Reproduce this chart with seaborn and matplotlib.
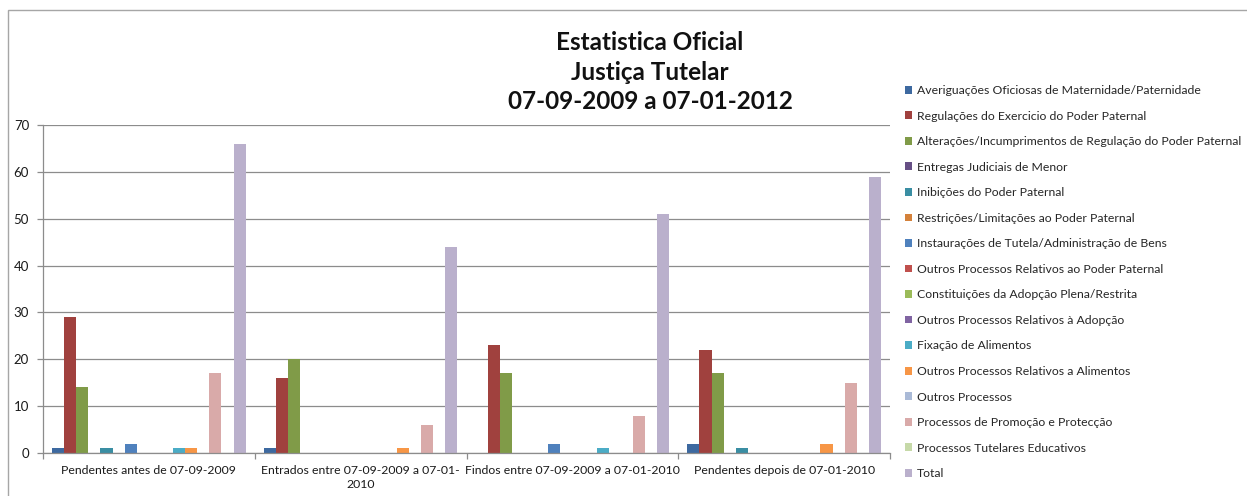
import matplotlib
matplotlib.use("Agg")
import matplotlib.pyplot as plt
import matplotlib.patches as mpatches
import seaborn as sns
import pandas as pd

# Categories (periods) and process types
periods = [
    "Pendentes antes de 07-09-2009",
    "Entrados entre 07-09-2009 a 07-01-\n2010",
    "Findos entre 07-09-2009 a 07-01-2010",
    "Pendentes depois de 07-01-2010",
]
series_names = [
    "Averiguações Oficiosas de Maternidade/Paternidade",
    "Regulações do Exercicio do Poder Paternal",
    "Alterações/Incumprimentos de Regulação do Poder Paternal",
    "Entregas Judiciais de Menor",
    "Inibições do Poder Paternal",
    "Restrições/Limitações ao Poder Paternal",
    "Instaurações de Tutela/Administração de Bens",
    "Outros Processos Relativos ao Poder Paternal",
    "Constituições da Adopção Plena/Restrita",
    "Outros Processos Relativos à Adopção",
    "Fixação de Alimentos",
    "Outros Processos Relativos a Alimentos",
    "Outros Processos",
    "Processos de Promoção e Protecção",
    "Processos Tutelares Educativos",
    "Total",
]

# Values per period, one entry per process type (same order as series_names)
pendentes_antes = [1, 29, 14, 0, 1, 0, 2, 0, 0, 0, 1, 1, 0, 17, 0, 66]
entrados = [1, 16, 20, 0, 0, 0, 0, 0, 0, 0, 0, 1, 0, 6, 0, 44]
findos = [0, 23, 17, 0, 0, 0, 2, 0, 0, 0, 1, 0, 0, 8, 0, 51]
pendentes_depois = [2, 22, 17, 0, 1, 0, 0, 0, 0, 0, 0, 2, 0, 15, 0, 59]

y_ticks = [0, 10, 20, 30, 40, 50, 60, 70]

colors = [
    "#3D69A0", "#A0413E", "#809B48", "#664F85", "#3A8EA3", "#D4813A",
    "#4F81BD", "#C0504D", "#9BBB59", "#8064A2", "#4BACC6", "#F79646",
    "#AABAD7", "#D9AAA9", "#C6D9A8", "#BAB0CC",
]

rows = []
for p, vals in zip(periods, [pendentes_antes, entrados, findos, pendentes_depois]):
    for s, v in zip(series_names, vals):
        rows.append({"periodo": p, "tipo": s, "valor": v})
df = pd.DataFrame(rows)

sns.set_theme(style="white")
plt.rcParams["font.family"] = ["Lato", "DejaVu Sans"]

fig = plt.figure(figsize=(12.47, 4.96), dpi=100)
ax = fig.add_axes([43 / 1247, 1 - 453 / 496, (890 - 43) / 1247, (453 - 125) / 496])

sns.barplot(
    data=df, x="periodo", y="valor", hue="tipo",
    order=periods, hue_order=series_names,
    palette=colors, width=16 / 17.5, ax=ax,
    saturation=1, legend=False, errorbar=None, linewidth=0,
)

ax.set_xlim(-0.5, len(periods) - 0.5)
ax.set_ylim(0, 70)
ax.set_yticks(y_ticks)
ax.set_yticklabels([str(t) for t in y_ticks])
ax.set_xlabel("")
ax.set_ylabel("")
ax.yaxis.grid(True, color="#8C8C8C", linewidth=0.9)
ax.set_axisbelow(True)

for side in ["top", "right"]:
    ax.spines[side].set_visible(False)
for side in ["left", "bottom"]:
    ax.spines[side].set_color("#8C8C8C")
    ax.spines[side].set_linewidth(0.9)

ax.tick_params(axis="y", which="major", length=4, color="#8C8C8C", width=0.9,
               labelsize=9.5, pad=6, labelcolor="#1a1a1a", left=True)
ax.set_xticks(range(len(periods)))
ax.set_xticklabels(periods, fontsize=8.8, color="#1a1a1a", linespacing=1.3)
ax.tick_params(axis="x", which="major", length=0, pad=9)
ax.set_xticks([i - 0.5 for i in range(len(periods) + 1)], minor=True)
ax.tick_params(axis="x", which="minor", length=4, color="#8C8C8C", width=0.9, bottom=True)

# Title
fig.text(650 / 1247, 1 - 72 / 496, "Estatistica Oficial\nJustiça Tutelar\n07-09-2009 a 07-01-2012",
         ha="center", va="center", fontsize=17.5, fontweight="bold", linespacing=1.33,
         color="#111111")

# Legend
handles = [mpatches.Patch(facecolor=c, edgecolor="none") for c in colors]
fig.legend(handles, series_names, loc="upper left",
           bbox_to_anchor=(905 / 1247, 1 - 85 / 496), frameon=False,
           fontsize=8.8, labelspacing=1.19, handlelength=0.6, handleheight=0.6,
           handletextpad=0.4, borderaxespad=0, borderpad=0)

# Chart area border
fig.patches.append(mpatches.Rectangle((8 / 1247, -0.05), 1.0, 1 - 10 / 496 + 0.05,
                                      transform=fig.transFigure, fill=False,
                                      edgecolor="#A6A6A6", linewidth=1.0))

fig.savefig("out.png", dpi=100, facecolor="white")
